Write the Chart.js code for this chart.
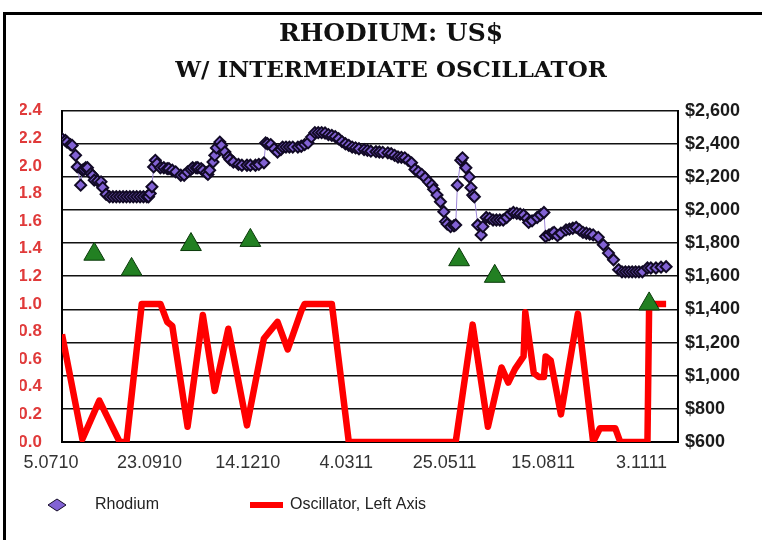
<!DOCTYPE html>
<html>
<head>
<meta charset="utf-8">
<title>Rhodium: US$ w/ Intermediate Oscillator</title>
<script src="https://cdn.jsdelivr.net/npm/chart.js@4.4.0/dist/chart.umd.min.js"></script>
<style>
  html, body { margin: 0; padding: 0; background: #fff; }
  #wrap { position: relative; width: 762px; height: 540px; }
</style>
</head>
<body>
<div id="wrap"><canvas id="rhodiumChart" width="762" height="540"></canvas></div>
<script>
// x = trading-day index counted from 5 Jul 2010 (one label every 58 days)
const dateLabels = ['5.0710', '23.0910', '14.1210', '4.0311', '25.0511', '15.0811', '3.1111'];
const labelDays = [0, 58, 116, 174, 232, 290, 348];

// Rhodium price, US$ (right axis)
const rhodiumDay = [
  0, 2, 3, 5, 6, 8, 9, 11, 12, 13,
  14, 15, 17, 18, 19, 21, 23, 24, 26, 28,
  30, 32, 34, 36, 38, 40, 42, 44, 46, 48,
  50, 51, 52, 53, 54, 55, 56, 58, 60, 62,
  63, 65, 67, 70, 72, 74, 76, 77, 79, 80,
  82, 83, 85, 86, 87, 89, 90, 91, 93, 94,
  96, 98, 99, 101, 104, 106, 109, 111, 114, 116,
  119, 120, 121, 123, 125, 127, 129, 130, 132, 134,
  136, 139, 141, 143, 145, 147, 149, 151, 153, 155,
  157, 159, 161, 163, 165, 167, 169, 171, 173, 175,
  178, 180, 182, 185, 187, 189, 192, 194, 196, 198,
  200, 202, 204, 206, 208, 210, 212, 214, 216, 218,
  219, 221, 223, 225, 226, 227, 229, 231, 232, 233,
  235, 236, 238, 240, 241, 242, 243, 245, 247, 248,
  250, 252, 254, 256, 258, 260, 262, 264, 266, 268,
  270, 272, 274, 275, 277, 280, 282, 284, 285, 287,
  289, 290, 292, 294, 297, 299, 301, 303, 305, 307,
  309, 311, 313, 316, 319, 322, 325, 328, 330, 332,
  334, 336, 338, 340, 342, 345, 347, 350, 353, 356
];
const rhodiumPrice = [
  2430, 2420, 2410, 2395, 2390, 2330, 2260, 2150, 2240, 2245,
  2255, 2255, 2220, 2210, 2180, 2175, 2170, 2135, 2095, 2080,
  2080, 2080, 2080, 2080, 2080, 2080, 2080, 2080, 2080, 2080,
  2080, 2080, 2100, 2140, 2260, 2300, 2280, 2255, 2255, 2250,
  2250, 2240, 2230, 2210, 2210, 2230, 2245, 2255, 2255, 2255,
  2250, 2240, 2225, 2215, 2240, 2290, 2330, 2375, 2410, 2390,
  2350, 2320, 2305, 2290, 2275, 2270, 2270, 2270, 2270, 2275,
  2285, 2405, 2400, 2395, 2370, 2350, 2365, 2380, 2380, 2380,
  2380, 2380, 2385, 2395, 2405, 2440, 2467, 2467, 2467, 2465,
  2455, 2450, 2443, 2430, 2413, 2400, 2390, 2380, 2375, 2370,
  2365, 2360, 2355, 2352, 2350, 2348, 2345, 2340, 2330, 2320,
  2318, 2315, 2300, 2285, 2245, 2230, 2215, 2195, 2170, 2150,
  2125, 2090, 2050, 1990, 1930, 1915, 1900, 1905, 1910, 2150,
  2300, 2315, 2255, 2200, 2135, 2090, 2080, 1910, 1850, 1900,
  1955, 1950, 1940, 1940, 1940, 1940, 1955, 1975, 1985, 1980,
  1975, 1970, 1950, 1925, 1935, 1955, 1970, 1985, 1840, 1850,
  1860, 1865, 1845, 1860, 1880, 1885, 1890, 1895, 1880, 1865,
  1860, 1855, 1850, 1835, 1790, 1740, 1700, 1640, 1627, 1627,
  1627, 1627, 1627, 1627, 1627, 1650, 1650, 1650, 1655, 1658
];

// Oscillator (left axis)
const oscDay = [0, 12, 22, 34, 38, 47, 58, 62, 65, 74, 83, 90, 98, 109, 119, 127, 133, 141, 143, 159,
  169, 232, 242, 251, 259, 263, 267, 272, 273, 278, 281, 284, 285, 288, 294, 304, 313, 317, 326, 329,
  345, 346, 356];
const oscValue = [0.78, 0.02, 0.30, 0.0, 0.0, 1.0, 1.0, 0.87, 0.84, 0.11, 0.92, 0.37, 0.82, 0.12, 0.75, 0.87, 0.67, 0.95, 1.0, 1.0,
  0.0, 0.0, 0.85, 0.11, 0.54, 0.43, 0.53, 0.62, 0.94, 0.50, 0.47, 0.47, 0.62, 0.59, 0.20, 0.93, 0.0, 0.10, 0.10, 0.0,
  0.0, 1.0, 1.0];

// buy signals (green triangles, left axis)
const signalDay = [19, 41, 76, 111, 234, 255, 346];
const signalValue = [1.36, 1.25, 1.43, 1.46, 1.32, 1.20, 1.0];

const pairs = (xs, ys) => xs.map((x, i) => ({ x: x, y: ys[i] }));

const purple = '#8262d4';
const red = '#ff0000';

// white background, black frame and the legend row under the plot
const frameAndLegend = {
  id: 'frameAndLegend',
  beforeDraw(chart) {
    const ctx = chart.ctx;
    ctx.save();
    ctx.fillStyle = '#fff';
    ctx.fillRect(0, 0, chart.width, chart.height);
    ctx.fillStyle = '#000';
    ctx.fillRect(3, 12, chart.width - 3, 3);
    ctx.fillRect(3, 12, 3, chart.height - 12);
    ctx.restore();
  },
  afterDraw(chart) {
    const ctx = chart.ctx;
    const ds = chart.data.datasets;
    const y = 505;
    ctx.save();
    ctx.beginPath();
    ctx.moveTo(48, y);
    ctx.lineTo(57, y - 6);
    ctx.lineTo(66, y);
    ctx.lineTo(57, y + 6);
    ctx.closePath();
    ctx.fillStyle = ds[1].pointBackgroundColor;
    ctx.fill();
    ctx.strokeStyle = ds[1].pointBorderColor;
    ctx.lineWidth = 1;
    ctx.stroke();
    ctx.fillStyle = ds[0].borderColor;
    ctx.fillRect(250, y - 3, 33, 6);
    ctx.font = '16px "Liberation Sans", Arial, sans-serif';
    ctx.fillStyle = '#222';
    ctx.textBaseline = 'middle';
    ctx.fillText(ds[1].label, 95, y);
    ctx.fillText(ds[0].label, 290, y);
    ctx.restore();
  }
};

new Chart(document.getElementById('rhodiumChart'), {
  type: 'line',
  data: {
    datasets: [{
      label: 'Oscillator, Left Axis',
      data: pairs(oscDay, oscValue),
      yAxisID: 'y',
      borderColor: red,
      borderWidth: 6.5,
      borderJoinStyle: 'round',
      pointRadius: 0,
      order: 3
    }, {
      label: 'Rhodium',
      data: pairs(rhodiumDay, rhodiumPrice),
      yAxisID: 'y1',
      borderColor: '#9d86d8',
      borderWidth: 1,
      pointStyle: 'rectRot',
      pointRadius: 5.5,
      pointBackgroundColor: purple,
      pointBorderColor: '#120a26',
      pointBorderWidth: 2,
      order: 2
    }, {
      label: 'Signal',
      data: pairs(signalDay, signalValue),
      yAxisID: 'y',
      showLine: false,
      pointStyle: 'triangle',
      pointRadius: 12,
      pointBackgroundColor: '#228022',
      pointBorderColor: '#0a3a0a',
      pointBorderWidth: 1,
      order: 1
    }]
  },
  options: {
    responsive: false,
    animation: false,
    layout: { padding: { left: 20, right: 0, top: 0, bottom: 0 } },
    plugins: {
      legend: { display: false },
      tooltip: { enabled: false },
      title: {
        display: true,
        text: 'RHODIUM: US$',
        color: '#111',
        font: { family: '"DejaVu Serif", "Liberation Serif", serif', size: 25, weight: 'bold' },
        padding: { top: 19, bottom: 0 }
      },
      subtitle: {
        display: true,
        text: 'W/ INTERMEDIATE OSCILLATOR',
        color: '#111',
        font: { family: '"DejaVu Serif", "Liberation Serif", serif', size: 23, weight: 'bold' },
        padding: { top: 8, bottom: 26 }
      }
    },
    scales: {
      x: {
        type: 'linear',
        min: 0,
        max: 363,
        grid: { display: false },
        border: { color: '#000', width: 2 },
        afterBuildTicks: (scale) => { scale.ticks = labelDays.map(v => ({ value: v })); },
        afterFit: (scale) => { scale.height = 98; },
        ticks: {
          autoSkip: false,
          maxRotation: 0,
          labelOffset: -11,
          padding: 2,
          color: '#333',
          font: { family: '"Liberation Sans", Arial, sans-serif', size: 18 },
          callback: (value, index) => dateLabels[index]
        }
      },
      y: {
        position: 'left',
        min: 0,
        max: 2.4,
        grid: { display: false, drawTicks: false },
        border: { color: '#000', width: 2 },
        afterFit: (scale) => { scale.width = 42; },
        ticks: {
          stepSize: 0.2,
          padding: 20,
          color: '#e03a3a',
          font: { family: '"Liberation Sans", Arial, sans-serif', size: 17, weight: 'bold' },
          callback: (value) => value.toFixed(1)
        }
      },
      y1: {
        position: 'right',
        min: 600,
        max: 2600,
        grid: { color: '#111', lineWidth: 1.6, drawTicks: false },
        border: { color: '#000', width: 2 },
        afterFit: (scale) => { scale.width = 84; },
        ticks: {
          stepSize: 200,
          padding: 7,
          color: '#1a1a1a',
          font: { family: '"Liberation Sans", Arial, sans-serif', size: 18, weight: 'bold' },
          callback: (value) => '$' + value.toLocaleString('en-US')
        }
      }
    }
  },
  plugins: [frameAndLegend]
});
</script>
</body>
</html>
